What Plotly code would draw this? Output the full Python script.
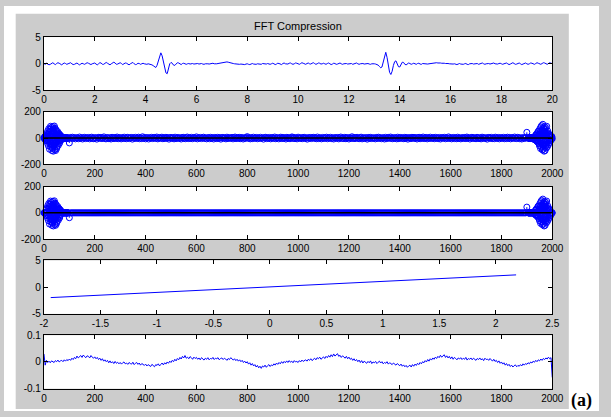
import plotly.graph_objects as go

W, H = 611, 417

# ---- panel 1: time signal (sampled every 0.05 s, 0..20 s) ----
signal_vals = [
    0.05, -0.1, 0.1, 0.0, -0.2, -0.1, 0.15, 0.2, 0.0, -0.15, 0.05, 0.2, 0.1, -0.1, -0.2, 0.0, 0.15, 0.05, -0.1, 0.0,
    0.1, 0.2, 0.0, -0.15, -0.1, 0.1, 0.15, -0.05, -0.2, -0.05, 0.1, 0.0, -0.1, 0.05, 0.2, 0.1, -0.1, -0.15, 0.0, 0.1,
    0.15, -0.05, -0.2, 0.0, 0.2, 0.15, -0.1, -0.1, 0.05, 0.25, 0.1, -0.15, -0.2, 0.0, 0.1, 0.3, 0.15, -0.1, -0.05, 0.1,
    0.2, 0.05, -0.15, 0.0, 0.15, 0.1, -0.1, -0.2, 0.0, 0.2, 0.25, 0.0, -0.15, -0.1, 0.1, 0.05, -0.1, 0.0, 0.1, 0.0,
    -0.05, -0.1, 0.0, -0.05, -0.1, -0.2, -0.35, -0.55, -0.7, -0.3, 0.6, 1.6, 2.05, 1.5, 0.2, -1.0, -1.7, -1.85, -1.0, 0.0,
    0.25, 0.1, -0.25, -0.3, -0.05, 0.2, 0.15, -0.1, -0.15, 0.05, 0.1, 0.0, -0.1, 0.0, 0.05, -0.05, 0.0, 0.05, -0.05, 0.0,
    0.0, 0.05, -0.05, 0.0, 0.05, -0.05, -0.1, 0.0, 0.05, 0.0, -0.05, 0.0, 0.05, 0.1, 0.0, -0.05, 0.0, 0.05, 0.1, 0.15,
    0.2, 0.3, 0.35, 0.3, 0.35, 0.3, 0.2, 0.15, 0.1, 0.05, 0.0, -0.05, -0.1, -0.15, -0.1, -0.05, -0.1, -0.2, -0.15, -0.05,
    0.0, -0.1, -0.15, -0.05, 0.05, -0.05, -0.15, -0.1, 0.0, -0.05, -0.15, -0.1, 0.05, 0.0, -0.1, -0.05, 0.05, 0.0, -0.1, 0.0,
    0.1, 0.0, -0.15, -0.05, 0.1, 0.05, -0.1, -0.15, 0.05, 0.15, 0.0, -0.1, -0.05, 0.1, 0.15, 0.0, -0.1, 0.0, 0.15, 0.1,
    0.0, -0.1, 0.05, 0.2, 0.1, -0.05, -0.1, 0.05, 0.15, 0.0, -0.05, 0.1, 0.2, 0.05, -0.1, 0.0, 0.15, 0.1, -0.05, 0.0,
    0.1, 0.0, -0.1, 0.05, 0.15, 0.0, -0.15, -0.05, 0.1, 0.05, -0.1, -0.05, 0.1, 0.15, 0.0, -0.1, 0.0, 0.1, 0.05, -0.05,
    0.0, 0.1, 0.05, -0.1, -0.05, 0.1, 0.15, 0.0, -0.1, 0.0, 0.1, 0.05, -0.05, 0.0, 0.1, 0.05, -0.05, -0.1, 0.0, 0.05,
    0.0, -0.05, -0.1, -0.25, -0.5, -0.75, -0.6, 0.4, 1.7, 2.15, 1.2, -0.5, -1.6, -2.0, -1.4, -0.3, 0.4, 0.55, 0.0, -0.55,
    -0.6, -0.1, 0.3, 0.25, -0.1, -0.2, 0.0, 0.15, 0.05, -0.1, 0.0, 0.1, 0.0, -0.1, 0.05, 0.1, -0.05, -0.1, 0.05, 0.0,
    0.05, 0.0, -0.05, 0.0, 0.05, 0.1, 0.15, 0.1, 0.15, 0.2, 0.15, 0.2, 0.15, 0.1, 0.15, 0.1, 0.05, 0.1, 0.05, 0.0,
    -0.05, -0.1, -0.05, 0.0, -0.1, -0.15, -0.05, 0.05, -0.05, -0.15, -0.1, 0.0, 0.05, -0.1, -0.15, 0.0, 0.1, 0.05, -0.05, 0.0,
    0.1, 0.05, -0.1, -0.05, 0.1, 0.15, 0.0, -0.1, 0.0, 0.1, 0.05, -0.05, 0.0, 0.1, 0.15, 0.0, -0.1, -0.05, 0.05, 0.1,
    0.0, -0.1, 0.0, 0.1, 0.15, 0.0, -0.15, -0.05, 0.1, 0.2, 0.05, -0.1, -0.05, 0.1, 0.15, 0.0, -0.15, -0.05, 0.1, 0.15,
    0.0, -0.1, 0.0, 0.15, 0.1, -0.05, -0.1, 0.05, 0.2, 0.1, -0.05, -0.1, 0.05, 0.2, 0.15, 0.0, -0.1, 0.05, 0.2, 0.1,
    0.05,
]
signal_dt = 0.05
signal_t = [i * signal_dt for i in range(len(signal_vals))]

# ---- panels 2/3: FFT coefficients (real part), stem plots ----
fft_low_vals = [   # bins 1..96
    4, -6, 9, -3, 14, -10, 6, -18, 25, -8,
    35, -22, 12, -40, 55, -15, 30, -60, 72, -28,
    48, -85, 20, 66, -50, 90, -35, -70, 80, 15,
    -95, 60, 38, -78, 88, -20, -100, 70, 45, -60,
    92, -40, -88, 75, 25, -95, 65, -30, 55, -80,
    40, -65, 20, 50, -45, 30, -55, 18, 35, -25,
    28, -38, 12, -20, 22, -10, 15, -14, 6, -9,
    8, -5, 4, -7, 3, -4, 5, -2, 3, -3,
    2, -3, 1, -2, 3, -1, 2, -2, 1, -1, 2, -1, 1, -2, 1, -1,
]
fft_mid_start, fft_mid_step = 100, 4
fft_mid_vals = [   # bins 100, 104, ..., 1900
    -37, 5, -3, 7, -2, 4, -6, 3, 1, -5, 8, -2, 4, -7, 2, 6, -4, 3, -1, 5,
    -6, 2, 7, -3, -5, 4, 1, -8, 3, 6, -2, 5, -4, 2, 9, -3, -6, 4, 2, -5,
    3, -7, 6, 1, -4, 5, -2, 8, -5, 3, 2, -6, 4, -3, 7, -1, -5, 6, 3, -4,
    2, 5, -8, 4, -2, 6, -3, 1, 7, -5, 3, -4, 10, -2, 5, -6, 2, 4, -7, 3,
    -1, 6, -4, 2, 5, -3, 8, -6, 1, 4, -2, 7, -5, 3, -3, 6, -1, 4, -8, 2,
    5, -2, 3, -6, 7, -4, 1, 5, -3, 2, -7, 4, 6, -1, -5, 3, 8, -4, 2, -3,
    6, -5, 2, 4, -2, 9, -6, 3, -1, 5, -4, 2, 7, -3, 1, -6, 4, 3, -5, 6,
    -2, 3, -7, 5, 1, -4, 6, -2, 4, -8, 3, 5, -1, 2, -6, 7, -3, 4, -2, 1,
    5, -6, 3, 8, -4, 2, -1, 6, -5, 3, 4, -7, 2, -3, 5, 11, -2, 4, -6, 3,
    -4, 7, -2, 1, 5, -5, 3, -3, 6, -1, 2, -8, 4, 6, -4, 3, -2, 5, -6, 2,
    4, -3, 8, -5, 2, 3, -6, 1, 7, -4, 5, -2, 3, -7, 6, -1, 2, -5, 4, 9,
    -3, 5, -4, 2, -6, 7, 1, -2, 4, -5, 3, 6, -3, 2, -8, 4, -1, 5, -4, 3,
    6, -2, 3, -5, 8, -4, 2, 1, -6, 5, -3, 4, -2, 7, -5, 3, -1, 6, -4, 2,
    -7, 4, 3, -2, 5, -6, 2, 8, -3, 1, -4, 6, -5, 3, 2, -7, 4, -2, 10, -3,
    5, -4, 2, 6, -1, -5, 3, 7, -6, 2, -3, 4, 1, -8, 5, -2, 6, -4, 3, -1,
    2, -6, 5, -3, 7, -2, 4, -5, 1, 3, -7, 6, -4, 2, 5, -3, 8, -1, -5, 4,
    -2, 3, -6, 7, -4, 1, 5, -3, 2, -5, 6, -2, 4, -8, 3, 2, -4, 6, -1, 5,
    -3, 4, -7, 2, 6, -5, 3, -1, 8, -4, 2, 5, -6, 3, -2, 7, -3, 1, 4, -5,
    6, -2, 3, -4, 5, -7, 2, 4, -1, 6, -5, 3, -3, 9, -2, 4, -6, 1, 5, -4,
    3, -5, 7, -2, 1, -6, 4, 2, -3, 5, -4, 8, -1, 3, -7, 2, 6, -3, 4, -2,
    -5, 6, 2, -4, 3, -6, 7, -1, 4, -3, 2, -8, 5, 3, -2, 6, -4, 1, -5, 7,
    2, -3, 5, -6, 4, 1, -2, 6, -5, 3, -4, 7, -2, 5, -6, 2, 4, -3, 8, -1,
    -4, 6, 3, -5, 2, -7, 4, 1, -3, 5, 44,
]
fft_high_vals = [  # bins 1905..2000
    -1, 2, -1, 1, -2, 1, -1, 2, -3, 1, -2, 3, -1, 2, -3, 4,
    -2, 5, -3, 4, -6, 3, -8, 5, -4, 9,
    -12, 6, -15, 20, -10, 25, -18, 30, -22, 12,
    -28, 40, -20, 50, -35, 18, 55, -45, 30, -60,
    70, -25, 45, -80, 85, -40, 20, 95, -70, 60,
    -90, 35, 105, -55, -85, 75, 40, -100, 88, -30,
    65, -95, 50, 80, -60, 25, -75, 90, -45, 35,
    -65, 55, -20, 40, -50, 15, 30, -35, 22, -12,
    25, -18, 10, -20, 14, -8, 12, -6, 9, -5,
]
n_bins = 2000
keep_threshold = 15   # coefficients smaller than this are discarded

fft_idx = (list(range(1, 1 + len(fft_low_vals)))
           + [fft_mid_start + fft_mid_step * i for i in range(len(fft_mid_vals))]
           + list(range(n_bins + 1 - len(fft_high_vals), n_bins + 1)))
fft_vals = fft_low_vals + fft_mid_vals + fft_high_vals
fft_kept = [v if abs(v) >= keep_threshold else 0 for v in fft_vals]

# ---- panel 4: straight line ----
line_x = [-1.94, 2.18]
line_y = [-1.95, 2.3]

# ---- panel 5: reconstruction error (every 5 samples, in thousandths) ----
err_step = 5
err_milli = [
    30, -12, 6, -2, 3, -3, 4, 0, -2, 5, 1, 7, 0, 4, 6, 1, 8, 3, 9, 5,
    11, 6, 14, 9, 17, 12, 22, 15, 19, 24, 17, 26, 20, 16, 23, 21, 15, 24, 18, 14,
    19, 12, 17, 9, 14, 6, 12, 3, 8, 1, 6, -3, 4, -4, 1, -6, 2, -5, -1, -7,
    -2, -8, -3, 0, -7, -4, -9, -2, -6, -8, -1, -10, -5, -2, -9, -4, -12, -6, -9, -13,
    -8, -15, -10, -12, -17, -9, -14, -18, -10, -13, -7, -15, -9, -4, -11, -3, -8, 0, -5, 3,
    -2, 6, 1, 10, 4, 13, 8, 17, 11, 21, 15, 24, 14, 18, 12, 20, 16, 10, 18, 13,
    17, 10, 15, 8, 16, 11, 7, 14, 10, 16, 8, 13, 11, 17, 9, 14, 12, 16, 8, 13,
    15, 9, 14, 11, 6, 13, 9, 16, 10, 7, 12, 5, 10, 3, 8, 1, 6, -2, 3, -4,
    1, -8, -3, -12, -6, -15, -10, -19, -13, -22, -16, -24, -15, -19, -12, -20, -14, -10, -17, -11,
    -14, -7, -12, -4, -9, -2, -7, 1, -5, 2, -3, 4, -2, 5, -1, 3, -3, 5, 0, 2,
    -2, 5, 0, 7, 2, 4, 8, 3, 10, 6, 12, 5, 11, 14, 8, 16, 12, 18, 10, 15,
    19, 13, 21, 16, 24, 18, 27, 20, 30, 22, 26, 31, 21, 25, 17, 23, 19, 14, 21, 12,
    18, 10, 14, 6, 12, 4, 9, 1, 7, -2, 5, -4, 3, 0, -5, 2, -3, 4, -6, 0,
    -3, 2, -6, -1, 3, -4, 1, -7, -2, -5, 1, -8, -3, -6, -10, -4, -8, -12, -6, -10,
    -14, -8, -16, -11, -18, -13, -20, -15, -12, -19, -10, -16, -8, -13, -5, -10, -2, -7, 1, -3,
    5, 0, 9, 3, 12, 7, 15, 10, 18, 13, 21, 16, 25, 18, 22, 27, 17, 23, 15, 21,
    12, 19, 10, 17, 13, 8, 15, 11, 16, 9, 14, 10, 17, 7, 13, 10, 15, 8, 14, 11,
    6, 13, 9, 15, 8, 12, 5, 14, 9, 11, 6, 13, 8, 3, 10, 2, 6, -2, 4, -5,
    0, -8, -3, -12, -6, -14, -9, -17, -12, -19, -14, -11, -18, -13, -16, -10, -15, -7, -12, -6,
    -9, -3, -7, 0, -4, 3, -1, 6, 1, 8, 4, 11, 6, 13, 9, 15, 11, 18, 12, 16,
    -58,
]
err_idx = [i * err_step for i in range(len(err_milli))]
err_vals = [v / 1000 for v in err_milli]

# ---- tick definitions ----
ticks_t = [0, 2, 4, 6, 8, 10, 12, 14, 16, 18, 20]
ticks_bins = [0, 200, 400, 600, 800, 1000, 1200, 1400, 1600, 1800, 2000]
ticks_line_x = [-2, -1.5, -1, -0.5, 0, 0.5, 1, 1.5, 2, 2.5]
ticks_line_x_text = ["-2", "-1.5", "-1", "-0.5", "0", "0.5", "1", "1.5", "2", "2.5"]
ticks_y5 = [-5, 0, 5]
ticks_y5_text = ["-5", "0", "5"]
ticks_y200 = [-200, 0, 200]
ticks_y200_text = ["-200", "0", "200"]
ticks_yerr = [-0.1, 0, 0.1]
ticks_yerr_text = ["-0.1", "0", "0.1"]

BLUE = "#0000ff"
FONT = "Arial, Liberation Sans, Helvetica, sans-serif"


def stem_segments(idx, vals):
    xs, ys = [], []
    for k, v in zip(idx, vals):
        xs += [k, k, None]
        ys += [0, v, None]
    return xs, ys


fig = go.Figure()

# panel 1
fig.add_trace(go.Scatter(x=signal_t, y=signal_vals, mode="lines",
                         line=dict(color=BLUE, width=1), xaxis="x", yaxis="y"))

# panels 2 and 3
for ax, vals in (("2", fft_vals), ("3", fft_kept)):
    sx, sy = stem_segments(fft_idx, vals)
    fig.add_trace(go.Scatter(x=sx, y=sy, mode="lines", line=dict(color=BLUE, width=1),
                             xaxis="x" + ax, yaxis="y" + ax, cliponaxis=False))
    fig.add_trace(go.Scatter(x=fft_idx, y=vals, mode="markers",
                             marker=dict(symbol="circle-open", size=6, color=BLUE,
                                         line=dict(width=1, color=BLUE)),
                             xaxis="x" + ax, yaxis="y" + ax, cliponaxis=False))
    fig.add_trace(go.Scatter(x=[min(fft_idx), max(fft_idx)], y=[0, 0], mode="lines",
                             line=dict(color="#000000", width=1.5),
                             xaxis="x" + ax, yaxis="y" + ax))

# panel 4
fig.add_trace(go.Scatter(x=line_x, y=line_y, mode="lines",
                         line=dict(color=BLUE, width=1), xaxis="x4", yaxis="y4"))

# panel 5
fig.add_trace(go.Scatter(x=err_idx, y=err_vals, mode="lines",
                         line=dict(color=BLUE, width=1), xaxis="x5", yaxis="y5"))


def px_x(a, b):
    return [a / W, b / W]


def px_y(top, bottom):
    return [1 - bottom / H, 1 - top / H]


def axis_style(**kw):
    d = dict(showline=True, linecolor="#000000", linewidth=1, mirror="allticks",
             ticks="inside", ticklen=4, tickcolor="#000000", tickwidth=1,
             showgrid=False, zeroline=False, fixedrange=True,
             tickfont=dict(family=FONT, size=10, color="#000000"))
    d.update(kw)
    return d


xdom = px_x(41, 563)
rows = [(32, 87), (109, 163), (186, 240), (262, 317), (339, 394)]

layout = dict(
    width=W, height=H, margin=dict(l=0, r=0, t=0, b=0),
    paper_bgcolor="#cccccc", plot_bgcolor="#ffffff", showlegend=False,
)

x_specs = [
    dict(range=[0, 20], tickvals=ticks_t),
    dict(range=[0, 2000], tickvals=ticks_bins),
    dict(range=[0, 2000], tickvals=ticks_bins),
    dict(range=[-2, 2.5], tickvals=ticks_line_x, ticktext=ticks_line_x_text),
    dict(range=[0, 2000], tickvals=ticks_bins),
]
y_specs = [
    dict(range=[-5, 5], tickvals=ticks_y5, ticktext=ticks_y5_text),
    dict(range=[-200, 200], tickvals=ticks_y200, ticktext=ticks_y200_text),
    dict(range=[-200, 200], tickvals=ticks_y200, ticktext=ticks_y200_text),
    dict(range=[-5, 5], tickvals=ticks_y5, ticktext=ticks_y5_text),
    dict(range=[-0.1, 0.1], tickvals=ticks_yerr, ticktext=ticks_yerr_text),
]
for i, ((top, bottom), xs, ys) in enumerate(zip(rows, x_specs, y_specs), start=1):
    suffix = "" if i == 1 else str(i)
    layout["xaxis" + suffix] = axis_style(domain=xdom, anchor="y" + suffix, **xs)
    layout["yaxis" + suffix] = axis_style(domain=px_y(top, bottom), anchor="x" + suffix, **ys)

# white margin around the grey figure area
white_strips = [
    (0, 0, W, 8), (0, 0, 12, H), (580, 0, W, H), (0, 415, W, H),
]
layout["shapes"] = [
    dict(type="rect", xref="paper", yref="paper", layer="below",
         x0=x0 / W, x1=x1 / W, y0=1 - y1 / H, y1=1 - y0 / H,
         fillcolor="#ffffff", line=dict(width=0))
    for x0, y0, x1, y1 in white_strips
]
layout["annotations"] = [
    dict(text="FFT Compression", xref="paper", yref="paper", x=302 / W, y=1 - 21 / H,
         xanchor="center", yanchor="middle", showarrow=False,
         font=dict(family=FONT, size=11, color="#000000")),
    dict(text="<b>(a)</b>", xref="paper", yref="paper", x=593 / W, y=1 - 406 / H,
         xanchor="center", yanchor="middle", showarrow=False,
         font=dict(family="Times New Roman, Liberation Serif, serif", size=18, color="#000000")),
]

fig.update_layout(**layout)
fig.write_html("out.html")
